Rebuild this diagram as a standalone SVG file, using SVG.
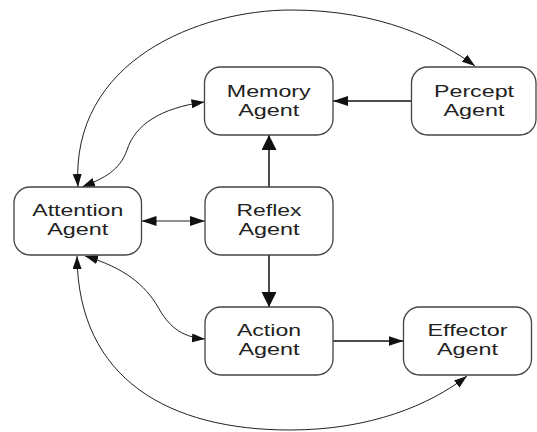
<svg xmlns="http://www.w3.org/2000/svg" width="537" height="432" viewBox="0 0 537 432">
<style>
.box{fill:#fff;stroke:#444;stroke-width:1.3}
.t{font-family:"Liberation Sans",Arial,sans-serif;font-size:16px;fill:#222;text-anchor:middle}
.s{fill:none;stroke:#111;stroke-width:1.5}
.c{fill:none;stroke:#222;stroke-width:1}
</style>
<defs>
<marker id="ah" markerUnits="userSpaceOnUse" markerWidth="16" markerHeight="11" refX="15" refY="5" orient="auto-start-reverse"><path d="M0,0 L15,5 L0,10 Z" fill="#111"/></marker>
<marker id="av" markerUnits="userSpaceOnUse" markerWidth="16" markerHeight="16" refX="15" refY="7.5" orient="auto-start-reverse"><path d="M0,0 L15,7.5 L0,15 Z" fill="#111"/></marker>
<marker id="ac" markerUnits="userSpaceOnUse" markerWidth="14" markerHeight="10" refX="13" refY="4.5" orient="auto-start-reverse"><path d="M0,0 L13,4.5 L0,9 Z" fill="#111"/></marker>
</defs>
<g id="connectors">
<path class="c" d="M78 187 C70 60 200 10 291 10 C380 10 440 40 475 66" marker-start="url(#ac)" marker-end="url(#ac)"/>
<path class="c" d="M82 187 C105 178 120 170 127 150 C135 125 160 108 204.5 102" marker-start="url(#ac)" marker-end="url(#ac)"/>
<path class="c" d="M85 256 C125 268 145 285 158 307 C168 325 180 337 205 339" marker-start="url(#ac)" marker-end="url(#ac)"/>
<path class="c" d="M77 256 C78 380 170 430 290 430 C370 430 430 405 467 376" marker-start="url(#ac)" marker-end="url(#ac)"/>
<line class="c" x1="141.5" y1="221" x2="205" y2="221" marker-start="url(#ah)" marker-end="url(#ah)"/>
<line class="s" x1="411.5" y1="101" x2="333" y2="101" marker-end="url(#ah)"/>
<line class="s" x1="269" y1="187" x2="269" y2="135" marker-end="url(#av)"/>
<line class="s" x1="269" y1="255" x2="269" y2="307" marker-end="url(#av)"/>
<line class="s" x1="333" y1="341" x2="403.5" y2="341" marker-end="url(#ah)"/>
</g>
<g id="memory">
<rect class="box" x="204.5" y="67" width="128.5" height="68" rx="16"/>
<text class="t" x="268.75" y="97" textLength="84" lengthAdjust="spacingAndGlyphs">Memory</text>
<text class="t" x="268.75" y="116" textLength="61" lengthAdjust="spacingAndGlyphs">Agent</text>
</g>
<g id="percept">
<rect class="box" x="411.5" y="67" width="124.5" height="68" rx="16"/>
<text class="t" x="474" y="97" textLength="80" lengthAdjust="spacingAndGlyphs">Percept</text>
<text class="t" x="474" y="116" textLength="61" lengthAdjust="spacingAndGlyphs">Agent</text>
</g>
<g id="attention">
<rect class="box" x="14" y="187" width="127.5" height="68" rx="16"/>
<text class="t" x="77.75" y="216" textLength="91" lengthAdjust="spacingAndGlyphs">Attention</text>
<text class="t" x="77.75" y="235" textLength="61" lengthAdjust="spacingAndGlyphs">Agent</text>
</g>
<g id="reflex">
<rect class="box" x="205" y="187" width="128" height="68" rx="16"/>
<text class="t" x="269" y="216" textLength="65" lengthAdjust="spacingAndGlyphs">Reflex</text>
<text class="t" x="269" y="235" textLength="61" lengthAdjust="spacingAndGlyphs">Agent</text>
</g>
<g id="action">
<rect class="box" x="205" y="307" width="128" height="68" rx="16"/>
<text class="t" x="269" y="336" textLength="64" lengthAdjust="spacingAndGlyphs">Action</text>
<text class="t" x="269" y="355" textLength="61" lengthAdjust="spacingAndGlyphs">Agent</text>
</g>
<g id="effector">
<rect class="box" x="403.5" y="307" width="128" height="68" rx="16"/>
<text class="t" x="467.5" y="336" textLength="80" lengthAdjust="spacingAndGlyphs">Effector</text>
<text class="t" x="467.5" y="355" textLength="61" lengthAdjust="spacingAndGlyphs">Agent</text>
</g>
</svg>
